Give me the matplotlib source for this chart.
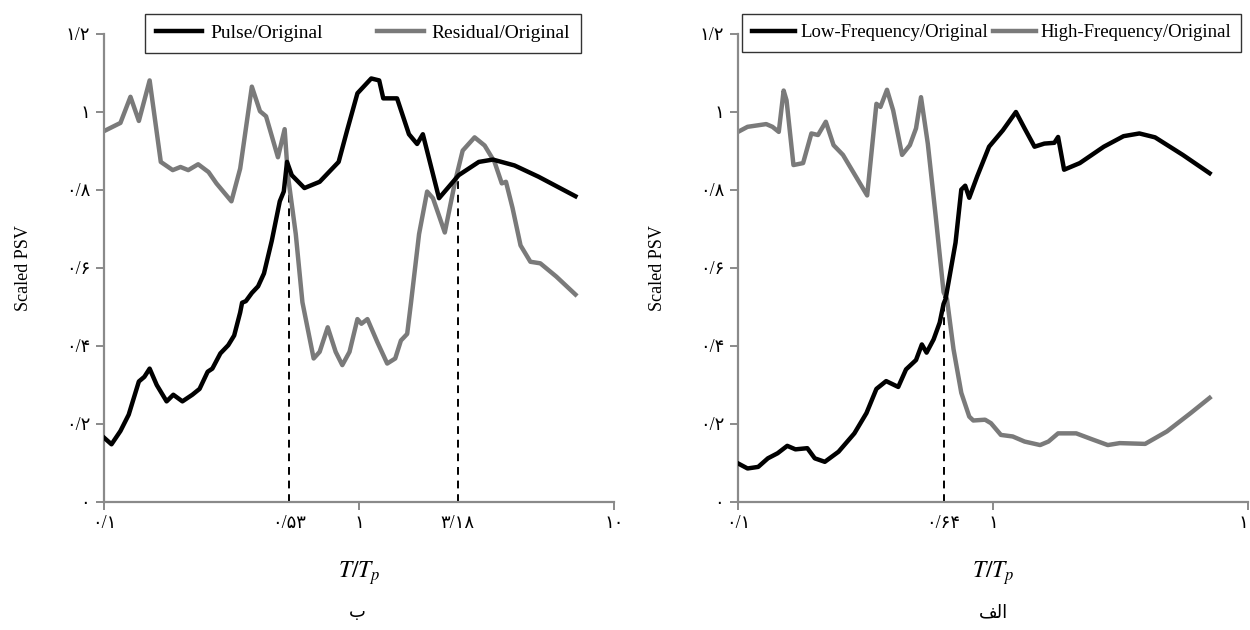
import matplotlib
matplotlib.use("Agg")
import matplotlib.pyplot as plt
from matplotlib.ticker import FixedLocator, FixedFormatter

plt.rcParams['font.family'] = ['Liberation Serif', 'DejaVu Sans']
plt.rcParams['mathtext.fontset'] = 'stix'

# panel ب : pulse / residual
pulse_T = [0.1, 0.107, 0.116, 0.125, 0.137, 0.144, 0.151, 0.161, 0.176, 0.187, 0.203, 0.222,
           0.237, 0.255, 0.266, 0.286, 0.307, 0.324, 0.342, 0.348, 0.360, 0.380, 0.402, 0.424,
           0.455, 0.489, 0.507, 0.522, 0.545, 0.611, 0.701, 0.832, 0.901, 0.986, 1.117, 1.20,
           1.245, 1.41, 1.57, 1.69, 1.78, 2.06, 2.46, 2.95, 3.35, 4.07, 5.06, 7.06]
pulse_v = [0.165, 0.148, 0.182, 0.224, 0.309, 0.321, 0.342, 0.300, 0.258, 0.275, 0.258, 0.275,
           0.290, 0.334, 0.342, 0.381, 0.402, 0.427, 0.486, 0.511, 0.515, 0.536, 0.553, 0.586,
           0.670, 0.771, 0.796, 0.872, 0.838, 0.805, 0.821, 0.872, 0.956, 1.048, 1.086, 1.081,
           1.035, 1.035, 0.943, 0.918, 0.943, 0.779, 0.838, 0.872, 0.878, 0.863, 0.834, 0.784]

resid_T = [0.1, 0.116, 0.127, 0.137, 0.151, 0.167, 0.186, 0.1995, 0.214, 0.234, 0.257, 0.276,
           0.316, 0.342, 0.380, 0.409, 0.432, 0.481, 0.511, 0.526, 0.565, 0.60, 0.664, 0.701,
           0.754, 0.810, 0.860, 0.918, 0.986, 1.022, 1.079, 1.18, 1.29, 1.387, 1.46, 1.545,
           1.60, 1.72, 1.85, 1.95, 2.17, 2.38, 2.55, 2.84, 3.11, 3.40, 3.63, 3.77, 4.0, 4.30,
           4.70, 5.14, 5.94, 7.06]
resid_v = [0.951, 0.972, 1.039, 0.977, 1.081, 0.872, 0.851, 0.859, 0.851, 0.866, 0.846, 0.817,
           0.771, 0.855, 1.065, 1.002, 0.989, 0.884, 0.956, 0.838, 0.687, 0.512, 0.368, 0.385,
           0.448, 0.385, 0.351, 0.385, 0.469, 0.457, 0.469, 0.410, 0.355, 0.368, 0.414, 0.431,
           0.512, 0.687, 0.796, 0.779, 0.691, 0.821, 0.901, 0.935, 0.914, 0.872, 0.817, 0.821,
           0.754, 0.658, 0.616, 0.612, 0.578, 0.532]

# panel الف : low / high frequency
low_T = [0.1, 0.109, 0.120, 0.131, 0.143, 0.156, 0.168, 0.187, 0.200, 0.219, 0.248, 0.286,
         0.319, 0.349, 0.381, 0.425, 0.456, 0.499, 0.526, 0.549, 0.585, 0.618, 0.64, 0.652,
         0.713, 0.751, 0.778, 0.807, 0.867, 0.965, 1.093, 1.23, 1.33, 1.455, 1.59, 1.74, 1.80,
         1.90, 2.19, 2.72, 3.25, 3.75, 4.32, 5.55, 7.07]
low_v = [0.099, 0.086, 0.090, 0.112, 0.125, 0.144, 0.135, 0.138, 0.112, 0.103, 0.129, 0.176,
         0.228, 0.290, 0.310, 0.295, 0.340, 0.364, 0.404, 0.383, 0.417, 0.460, 0.508, 0.521,
         0.665, 0.801, 0.811, 0.780, 0.835, 0.911, 0.953, 1.0, 0.958, 0.911, 0.919, 0.921, 0.936,
         0.852, 0.869, 0.911, 0.938, 0.945, 0.935, 0.890, 0.843]

high_T = [0.1, 0.109, 0.129, 0.1365, 0.1445, 0.151, 0.155, 0.165, 0.180, 0.194, 0.206, 0.221,
          0.237, 0.258, 0.321, 0.349, 0.362, 0.384, 0.406, 0.440, 0.472, 0.499, 0.522, 0.555,
          0.596, 0.640, 0.66, 0.700, 0.751, 0.807, 0.837, 0.931, 0.982, 1.074, 1.195, 1.33,
          1.53, 1.65, 1.80, 2.12, 2.44, 2.82, 3.14, 3.95, 4.81, 5.96, 7.07]
high_v = [0.949, 0.962, 0.969, 0.962, 0.949, 1.055, 1.030, 0.864, 0.869, 0.945, 0.941, 0.975,
          0.915, 0.890, 0.786, 1.021, 1.013, 1.057, 1.004, 0.890, 0.915, 0.958, 1.038, 0.919,
          0.733, 0.538, 0.52, 0.392, 0.280, 0.219, 0.209, 0.211, 0.202, 0.172, 0.168, 0.155,
          0.146, 0.155, 0.176, 0.176, 0.161, 0.146, 0.151, 0.149, 0.181, 0.228, 0.267]

# dashed markers (position on axis, top of the dash, label)
left_dash_T = [0.53, 2.44]
left_dash_top = [0.855, 0.83]
left_dash_lab = ['۰/۵۳', '۳/۱۸']
right_dash_T = [0.64]
right_dash_top = [0.53]
right_dash_lab = ['۰/۶۴']

yticks = [0, 0.2, 0.4, 0.6, 0.8, 1.0, 1.2]
ylabels = ['۰', '۰/۲', '۰/۴', '۰/۶', '۰/۸', '۱', '۱/۲']
xticks = [0.1, 1, 10]
xlabels = ['۰/۱', '۱', '۱۰']

BLACK = '#000000'
GRAY = '#7a7a7a'
SPINE = '#8a8a8a'

fig = plt.figure(figsize=(12.5, 6.3), dpi=100)
axL = fig.add_axes([104 / 1250, 1 - 502 / 630, 510 / 1250, 468 / 630])
axR = fig.add_axes([738 / 1250, 1 - 502 / 630, 510 / 1250, 468 / 630])


def style(ax, dT, dtop, dlab):
    ax.set_xscale('log')
    ax.set_xlim(0.1, 10)
    ax.set_ylim(0, 1.2)
    for s in ['top', 'right']:
        ax.spines[s].set_visible(False)
    for s in ['left', 'bottom']:
        ax.spines[s].set_color(SPINE)
        ax.spines[s].set_linewidth(1.6)
    ax.yaxis.set_major_locator(FixedLocator(yticks))
    ax.yaxis.set_major_formatter(FixedFormatter(ylabels))
    ax.xaxis.set_major_locator(FixedLocator(xticks))
    ax.xaxis.set_major_formatter(FixedFormatter(xlabels))
    ax.xaxis.set_minor_locator(FixedLocator(dT))
    ax.xaxis.set_minor_formatter(FixedFormatter(dlab))
    ax.tick_params(axis='both', which='major', color=SPINE, width=1.4, length=6,
                   labelsize=13, pad=4)
    ax.tick_params(axis='x', which='minor', length=0, labelsize=13, pad=9)
    ax.tick_params(axis='x', which='major', pad=3)
    for t, top in zip(dT, dtop):
        ax.plot([t, t], [0, top], color='black', lw=1.4, ls=(0, (4, 3)), zorder=1)
    ax.set_ylabel('Scaled PSV', fontsize=13, labelpad=24)
    ax.set_xlabel('$T/T_p$', fontsize=17, labelpad=20)


style(axL, left_dash_T, left_dash_top, left_dash_lab)
style(axR, right_dash_T, right_dash_top, right_dash_lab)

axL.plot(pulse_T, pulse_v, color=BLACK, lw=3.2, solid_joinstyle='round', label='Pulse/Original', zorder=3)
axL.plot(resid_T, resid_v, color=GRAY, lw=3.2, solid_joinstyle='round', label='Residual/Original', zorder=2)
axR.plot(low_T, low_v, color=BLACK, lw=3.2, solid_joinstyle='round', label='Low-Frequency/Original', zorder=3)
axR.plot(high_T, high_v, color=GRAY, lw=3.2, solid_joinstyle='round', label='High-Frequency/Original', zorder=2)

legL = axL.legend(loc='upper left', bbox_to_anchor=(145 / 1250, 1 - 14 / 630),
                  bbox_transform=fig.transFigure, borderaxespad=0, ncol=2, fontsize=14,
                  frameon=True, fancybox=False, edgecolor='black', handlelength=2.4,
                  columnspacing=2.8, borderpad=0.55, handletextpad=0.4)
legL.get_frame().set_linewidth(1.0)
legR = axR.legend(loc='upper left', bbox_to_anchor=(742 / 1250, 1 - 14 / 630),
                  bbox_transform=fig.transFigure, borderaxespad=0, ncol=2, fontsize=13.5,
                  frameon=True, fancybox=False, edgecolor='black', handlelength=2.3,
                  columnspacing=0.25, borderpad=0.55, handletextpad=0.25)
legR.get_frame().set_linewidth(1.0)

fig.text(357 / 1250, 1 - 612 / 630, 'ب', ha='center', va='center', fontsize=13,
         family=['DejaVu Sans'])
fig.text(993 / 1250, 1 - 612 / 630, '\ufed2\ufedf\ufe8d', ha='center', va='center', fontsize=13,
         family=['DejaVu Sans'])

fig.savefig('out.png', dpi=100)
